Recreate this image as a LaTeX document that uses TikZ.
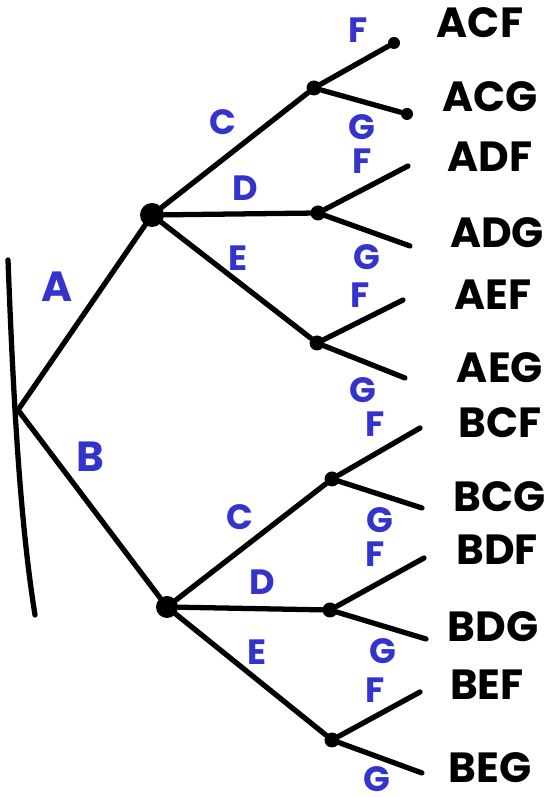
\documentclass[tikz,border=0pt]{standalone}
\usepackage{fontspec}
\setsansfont{Poppins}
\definecolor{pen}{RGB}{52,52,204}

\begin{document}
\begin{tikzpicture}[x=1cm,y=1cm]
\tikzset{
  rootdot/.style={circle,fill=black,inner sep=0pt,minimum size=4.8mm},
  branchdot/.style={circle,fill=black,inner sep=0pt,minimum size=3mm},
  tipdot/.style={circle,fill=black,inner sep=0pt,minimum size=2.4mm},
  branch/.style={line width=3pt,line cap=round},
  outcome/.style={font=\sffamily\bfseries\fontsize{24}{26}\selectfont},
  choice/.style={text=pen,inner sep=0.5pt,font=\sffamily\bfseries\fontsize{20}{22}\selectfont}
}
\useasboundingbox (0,0) rectangle (10.98,15.94);
% start bar and root
\coordinate (bar_top) at (0.16,10.74);
\coordinate (bar_bot) at (0.70,3.64);
\coordinate (n_root) at (0.36,7.74);
\draw[branch] (bar_top) .. controls (0.28,7.60) and (0.42,5.40) .. (bar_bot);
% first and second stage
\node[rootdot] (n_A) at (3.04,11.64) {};
\node[rootdot,minimum size=4.4mm] (n_B) at (3.34,3.80) {};
\node[branchdot] (n_AC) at (6.28,14.18) {};
\node[branchdot] (n_AD) at (6.36,11.68) {};
\node[branchdot] (n_AE) at (6.34,9.08) {};
\node[branchdot] (n_BC) at (6.64,6.36) {};
\node[branchdot] (n_BD) at (6.60,3.74) {};
\node[branchdot] (n_BE) at (6.64,1.14) {};
% leaf ends
\node[tipdot] (e_ACF) at (7.88,15.08) {};
\node[tipdot] (e_ACG) at (8.14,13.66) {};
\coordinate (e_ADF) at (8.16,12.62);
\coordinate (e_ADG) at (8.20,11.02);
\coordinate (e_AEF) at (8.06,9.94);
\coordinate (e_AEG) at (8.10,8.38);
\coordinate (e_BCF) at (8.40,7.38);
\coordinate (e_BCG) at (8.44,5.78);
\coordinate (e_BDF) at (8.48,4.78);
\coordinate (e_BDG) at (8.52,3.16);
\coordinate (e_BEF) at (8.40,2.10);
\coordinate (e_BEG) at (8.44,0.48);
% outcomes
\node[outcome] (t_ACF) at (9.60,15.48) {ACF};
\node[outcome] (t_ACG) at (9.80,14.00) {ACG};
\node[outcome] (t_ADF) at (9.80,12.80) {ADF};
\node[outcome] (t_ADG) at (9.94,11.28) {ADG};
\node[outcome] (t_AEF) at (9.86,10.04) {AEF};
\node[outcome] (t_AEG) at (10.00,8.58) {AEG};
\node[outcome] (t_BCF) at (10.00,7.48) {BCF};
\node[outcome] (t_BCG) at (10.00,6.00) {BCG};
\node[outcome] (t_BDF) at (9.94,4.94) {BDF};
\node[outcome] (t_BDG) at (9.86,3.40) {BDG};
\node[outcome] (t_BEF) at (9.74,2.24) {BEF};
\node[outcome] (t_BEG) at (9.80,0.58) {BEG};
% branches
\draw[branch] (n_root) -- (n_A);
\draw[branch] (n_root) -- (n_B);
\draw[branch] (n_A) -- (n_AC);
\draw[branch] (n_A) -- (n_AD);
\draw[branch] (n_A) -- (n_AE);
\draw[branch] (n_B) -- (n_BC);
\draw[branch] (n_B) -- (n_BD);
\draw[branch] (n_B) -- (n_BE);
\draw[branch] (n_AC) -- (e_ACF);
\draw[branch] (n_AC) -- (e_ACG);
\draw[branch] (n_AD) -- (e_ADF);
\draw[branch] (n_AD) -- (e_ADG);
\draw[branch] (n_AE) -- (e_AEF);
\draw[branch] (n_AE) -- (e_AEG);
\draw[branch] (n_BC) -- (e_BCF);
\draw[branch] (n_BC) -- (e_BCG);
\draw[branch] (n_BD) -- (e_BDF);
\draw[branch] (n_BD) -- (e_BDG);
\draw[branch] (n_BE) -- (e_BEF);
\draw[branch] (n_BE) -- (e_BEG);
% branch labels
\node[choice,font=\sffamily\bfseries\fontsize{24}{26}\selectfont] (l_A) at (1.14,10.20) {A};
\node[choice,font=\sffamily\bfseries\fontsize{24}{26}\selectfont] (l_B) at (1.80,6.80) {B};
\node[choice] (l_AC) at (4.46,13.50) {C};
\node[choice] (l_AD) at (4.90,12.18) {D};
\node[choice] (l_AE) at (4.76,10.78) {E};
\node[choice] (l_BC) at (4.80,5.60) {C};
\node[choice] (l_BD) at (5.24,4.30) {D};
\node[choice] (l_BE) at (5.14,2.90) {E};
\node[choice] (l_ACF) at (7.16,15.34) {F};
\node[choice] (l_ACG) at (7.24,13.40) {G};
\node[choice] (l_ADF) at (7.24,12.72) {F};
\node[choice] (l_ADG) at (7.34,10.80) {G};
\node[choice] (l_AEF) at (7.20,10.04) {F};
\node[choice] (l_AEG) at (7.26,8.14) {G};
\node[choice] (l_BCF) at (7.50,7.46) {F};
\node[choice] (l_BCG) at (7.60,5.54) {G};
\node[choice] (l_BDF) at (7.50,4.86) {F};
\node[choice] (l_BDG) at (7.66,2.92) {G};
\node[choice] (l_BEF) at (7.50,2.14) {F};
\node[choice] (l_BEG) at (7.54,0.36) {G};
\end{tikzpicture}
\end{document}
